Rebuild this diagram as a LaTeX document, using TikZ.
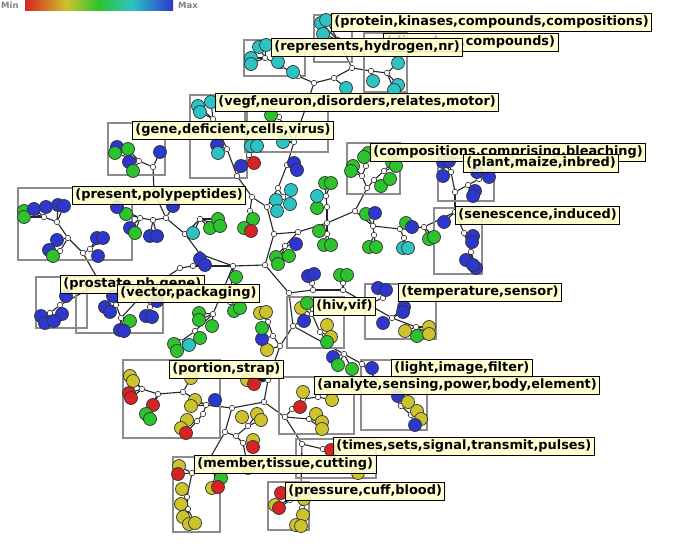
\documentclass[tikz,border=0pt]{standalone}
\usepackage{fontspec}
\setsansfont{DejaVu Sans}
\usetikzlibrary{backgrounds}
\definecolor{blu}{RGB}{45,55,205}
\definecolor{grn}{RGB}{45,195,45}
\definecolor{cyn}{RGB}{45,195,195}
\definecolor{ylw}{RGB}{205,195,45}
\definecolor{rd}{RGB}{215,35,35}
\definecolor{lbl}{RGB}{255,255,204}
\definecolor{kastengrau}{RGB}{140,140,140}
\pgfdeclarehorizontalshading{farbskala}{100bp}{color(0bp)=(rd); color(25bp)=(rd); color(39bp)=(ylw); color(50bp)=(grn); color(61bp)=(cyn); color(75bp)=(blu); color(100bp)=(blu)}
\begin{document}
\begin{tikzpicture}[x=1pt,y=-1pt,
  knoten/.style={circle,draw=black!80,fill=white,line width=0.6pt,minimum size=5.5pt,inner sep=0pt},
  blatt/.style={circle,draw=black!80,fill=#1,line width=0.7pt,minimum size=13pt,inner sep=0pt},
  kante/.style={line width=1.1pt,black!85},
  kasten/.style={draw=kastengrau,line width=1.1pt},
  etikett/.style={draw=black,line width=0.9pt,fill=lbl,fill opacity=0.88,text opacity=1,anchor=north west,inner xsep=3pt,inner ysep=3pt,text height=9.5pt,text depth=2.5pt,font=\sffamily\bfseries\fontsize{12.9}{14}\selectfont},
  skala/.style={text=gray,font=\sffamily\bfseries\fontsize{8.5}{10}\selectfont,inner sep=0pt,anchor=west}]
\useasboundingbox (0,0) rectangle (684,553);
% Skala
\shade[shading=farbskala] (25,0) rectangle (173,11);
\node[skala] (minwert) at (1,5) {Min};
\node[skala] (maxwert) at (178,5) {Max};
% Kaesten
\draw[kasten] (314,15) rectangle (352,62);
\draw[kasten] (364,33) rectangle (407,92);
\draw[kasten] (244,40) rectangle (305,76);
\draw[kasten] (190,95) rectangle (247,178);
\draw[kasten] (245,96) rectangle (328,152);
\draw[kasten] (108,123) rectangle (165,175);
\draw[kasten] (18,188) rectangle (132,260);
\draw[kasten] (347,143) rectangle (400,194);
\draw[kasten] (438,158) rectangle (494,201);
\draw[kasten] (434,208) rectangle (482,274);
\draw[kasten] (36,277) rectangle (87,328);
\draw[kasten] (76,285) rectangle (163,333);
\draw[kasten] (287,297) rectangle (344,348);
\draw[kasten] (365,284) rectangle (436,339);
\draw[kasten] (361,360) rectangle (427,430);
\draw[kasten] (123,360) rectangle (220,438);
\draw[kasten] (279,377) rectangle (354,434);
\draw[kasten] (296,439) rectangle (376,478);
\draw[kasten] (173,457) rectangle (220,532);
\draw[kasten] (268,482) rectangle (309,530);
% Knoten
\node[knoten] (c0) at (265,265) {};
\node[knoten] (cu) at (274,234) {};
\node[knoten] (cl) at (233,266) {};
\node[knoten] (cd) at (289,293) {};
\node[knoten] (s0a) at (267,207) {};
\node[knoten] (v0) at (252,197) {};
\node[knoten] (s0) at (278,188) {};
\node[knoten] (s0b) at (283,197) {};
\node[knoten] (s1) at (287,165) {};
\node[knoten] (s2) at (294,142) {};
\node[knoten] (b5) at (279,117) {};
\node[knoten] (t1) at (314,83) {};
\node[knoten] (r3) at (298,76) {};
\node[knoten] (r2) at (281,66) {};
\node[knoten] (r1) at (265,58) {};
\node[knoten] (t4) at (334,78) {};
\node[knoten] (t5) at (352,68) {};
\node[knoten] (t6) at (338,40) {};
\node[knoten] (t7) at (371,71) {};
\node[knoten] (t8) at (387,73) {};
\node[knoten] (v1) at (237,176) {};
\node[knoten] (v2) at (227,149) {};
\node[knoten] (v3) at (213,119) {};
\node[knoten] (v4) at (249,155) {};
\node[knoten] (g1) at (250,211) {};
\node[knoten] (l1) at (200,254) {};
\node[knoten] (l2) at (185,234) {};
\node[knoten] (l2a) at (200,219) {};
\node[knoten] (l3) at (166,218) {};
\node[knoten] (g0) at (154,192) {};
\node[knoten] (g2) at (153,167) {};
\node[knoten] (g3) at (139,161) {};
\node[knoten] (l4) at (153,220) {};
\node[knoten] (l5) at (140,218) {};
\node[knoten] (w1) at (193,266) {};
\node[knoten] (w2) at (180,268) {};
\node[knoten] (w3) at (145,292) {};
\node[knoten] (w4) at (100,283) {};
\node[knoten] (vk1) at (121,318) {};
\node[knoten] (vk2) at (116,305) {};
\node[knoten] (vk4) at (150,307) {};
\node[knoten] (p2) at (83,253) {};
\node[knoten] (p1) at (68,238) {};
\node[knoten] (p3) at (57,222) {};
\node[knoten] (p4) at (44,217) {};
\node[knoten] (p5) at (60,251) {};
\node[knoten] (p6) at (90,249) {};
\node[knoten] (k1) at (60,305) {};
\node[knoten] (k2) at (50,313) {};
\node[knoten] (d0) at (230,302) {};
\node[knoten] (d1) at (213,314) {};
\node[knoten] (d2) at (195,331) {};
\node[knoten] (d3) at (180,342) {};
\node[knoten] (x1) at (298,232) {};
\node[knoten] (x1a) at (285,246) {};
\node[knoten] (x2) at (327,223) {};
\node[knoten] (x2u) at (327,207) {};
\node[knoten] (x2v) at (326,196) {};
\node[knoten] (x2d) at (327,234) {};
\node[knoten] (x3) at (355,211) {};
\node[knoten] (b8a) at (367,188) {};
\node[knoten] (b8b) at (362,176) {};
\node[knoten] (b8e) at (366,166) {};
\node[knoten] (b8c) at (374,180) {};
\node[knoten] (b8d) at (384,171) {};
\node[knoten] (y0) at (373,226) {};
\node[knoten] (y0d) at (374,235) {};
\node[knoten] (y1) at (400,229) {};
\node[knoten] (y1d) at (404,238) {};
\node[knoten] (y2) at (424,227) {};
\node[knoten] (y3) at (455,212) {};
\node[knoten] (y4) at (455,192) {};
\node[knoten] (y4a) at (451,172) {};
\node[knoten] (y4b) at (468,185) {};
\node[knoten] (y4c) at (479,179) {};
\node[knoten] (y5) at (464,233) {};
\node[knoten] (y6) at (471,252) {};
\node[knoten] (z1) at (313,290) {};
\node[knoten] (z1a) at (312,283) {};
\node[knoten] (z2) at (343,290) {};
\node[knoten] (z2a) at (343,283) {};
\node[knoten] (z3) at (368,304) {};
\node[knoten] (te1) at (383,298) {};
\node[knoten] (te2) at (392,318) {};
\node[knoten] (te3) at (416,327) {};
\node[knoten] (h0) at (293,326) {};
\node[knoten] (h1) at (312,314) {};
\node[knoten] (h2) at (320,332) {};
\node[knoten] (m1) at (280,346) {};
\node[knoten] (m2) at (273,336) {};
\node[knoten] (m3) at (268,322) {};
\node[knoten] (n1) at (344,354) {};
\node[knoten] (n3) at (362,364) {};
\node[knoten] (li1) at (389,392) {};
\node[knoten] (li2) at (401,406) {};
\node[knoten] (li3) at (411,415) {};
\node[knoten] (q1) at (268,380) {};
\node[knoten] (u1) at (264,402) {};
\node[knoten] (u2) at (232,408) {};
\node[knoten] (u3) at (285,417) {};
\node[knoten] (u4) at (302,444) {};
\node[knoten] (an1) at (292,409) {};
\node[knoten] (an2) at (303,399) {};
\node[knoten] (an3) at (318,397) {};
\node[knoten] (an4) at (309,419) {};
\node[knoten] (ti1) at (323,449) {};
\node[knoten] (pr0) at (301,487) {};
\node[knoten] (pr1) at (290,500) {};
\node[knoten] (pr2) at (302,508) {};
\node[knoten] (pr3) at (300,520) {};
\node[knoten] (po1) at (206,405) {};
\node[knoten] (po2) at (183,392) {};
\node[knoten] (po3) at (158,394) {};
\node[knoten] (po4) at (142,389) {};
\node[knoten] (po6) at (203,414) {};
\node[knoten] (po7) at (197,421) {};
\node[knoten] (me0) at (225,432) {};
\node[knoten] (me1) at (236,436) {};
\node[knoten] (me2) at (248,426) {};
\node[knoten] (me3) at (243,443) {};
\node[knoten] (mb0) at (210,458) {};
\node[knoten] (mb0a) at (216,481) {};
\node[knoten] (mb1) at (192,473) {};
\node[knoten] (mb2) at (187,497) {};
\node[knoten] (mb3) at (188,509) {};
% Blaetter
\node[blatt=cyn] (s0b-1) at (291,190) {};
\node[blatt=cyn] (s0b-2) at (290,204) {};
\node[blatt=cyn] (s0b-3) at (276,200) {};
\node[blatt=cyn] (s0b-4) at (277,211) {};
\node[blatt=blu] (s1-1) at (294,163) {};
\node[blatt=blu] (s1-2) at (297,170) {};
\node[blatt=cyn] (s2-1) at (283,142) {};
\node[blatt=grn] (b5-1) at (271,115) {};
\node[blatt=cyn] (r3-1) at (293,72) {};
\node[blatt=cyn] (r2-1) at (278,62) {};
\node[blatt=cyn] (r1-1) at (259,47) {};
\node[blatt=cyn] (r1-2) at (266,45) {};
\node[blatt=cyn] (r1-3) at (251,58) {};
\node[blatt=cyn] (r1-4) at (251,64) {};
\node[blatt=cyn] (t4-1) at (346,88) {};
\node[blatt=cyn] (t6-1) at (321,23) {};
\node[blatt=cyn] (t6-2) at (326,20) {};
\node[blatt=cyn] (t6-3) at (323,34) {};
\node[blatt=cyn] (t7-1) at (373,81) {};
\node[blatt=cyn] (t8-1) at (398,63) {};
\node[blatt=cyn] (t8-2) at (398,85) {};
\node[blatt=cyn] (t8-3) at (394,90) {};
\node[blatt=blu] (v1-1) at (241,166) {};
\node[blatt=blu] (v2-1) at (217,145) {};
\node[blatt=cyn] (v2-2) at (218,153) {};
\node[blatt=cyn] (v3-1) at (198,106) {};
\node[blatt=cyn] (v3-2) at (200,112) {};
\node[blatt=cyn] (v3-3) at (211,102) {};
\node[blatt=cyn] (v4-1) at (251,146) {};
\node[blatt=cyn] (v4-2) at (257,146) {};
\node[blatt=rd] (v4-3) at (254,163) {};
\node[blatt=grn] (g1-1) at (253,219) {};
\node[blatt=grn] (g1-2) at (244,228) {};
\node[blatt=rd] (g1-3) at (251,231) {};
\node[blatt=cyn] (l2a-1) at (193,233) {};
\node[blatt=grn] (l2a-2) at (210,228) {};
\node[blatt=grn] (l2a-3) at (218,219) {};
\node[blatt=grn] (l2a-4) at (220,226) {};
\node[blatt=blu] (l3-1) at (173,206) {};
\node[blatt=blu] (g2-1) at (160,152) {};
\node[blatt=blu] (g3-1) at (117,147) {};
\node[blatt=grn] (g3-2) at (115,153) {};
\node[blatt=grn] (g3-3) at (128,149) {};
\node[blatt=blu] (g3-4) at (129,162) {};
\node[blatt=grn] (g3-5) at (133,171) {};
\node[blatt=blu] (l4-1) at (150,236) {};
\node[blatt=blu] (l4-2) at (157,236) {};
\node[blatt=grn] (l5-1) at (126,214) {};
\node[blatt=blu] (l5-2) at (130,228) {};
\node[blatt=grn] (l5-3) at (135,233) {};
\node[blatt=blu] (l5-4) at (117,207) {};
\node[blatt=blu] (w1-1) at (200,259) {};
\node[blatt=blu] (w1-2) at (205,265) {};
\node[blatt=blu] (vk2-1) at (105,307) {};
\node[blatt=blu] (vk2-2) at (110,312) {};
\node[blatt=blu] (vk2-3) at (113,296) {};
\node[blatt=grn] (vk1-1) at (130,321) {};
\node[blatt=blu] (vk1-2) at (120,330) {};
\node[blatt=blu] (vk1-3) at (124,331) {};
\node[blatt=blu] (vk4-1) at (146,316) {};
\node[blatt=blu] (vk4-2) at (152,317) {};
\node[blatt=blu] (vk4-3) at (157,301) {};
\node[blatt=blu] (p3-1) at (58,205) {};
\node[blatt=blu] (p3-2) at (64,206) {};
\node[blatt=grn] (p4-1) at (24,211) {};
\node[blatt=grn] (p4-2) at (24,217) {};
\node[blatt=blu] (p4-3) at (34,209) {};
\node[blatt=blu] (p4-4) at (46,207) {};
\node[blatt=blu] (p1-1) at (57,240) {};
\node[blatt=blu] (p5-1) at (49,250) {};
\node[blatt=grn] (p5-2) at (53,256) {};
\node[blatt=blu] (p6-1) at (97,238) {};
\node[blatt=blu] (p6-2) at (103,238) {};
\node[blatt=blu] (p6-3) at (98,256) {};
\node[blatt=blu] (k1-1) at (66,296) {};
\node[blatt=blu] (k1-2) at (62,314) {};
\node[blatt=blu] (k2-1) at (41,316) {};
\node[blatt=blu] (k2-2) at (45,323) {};
\node[blatt=blu] (k2-3) at (54,321) {};
\node[blatt=grn] (cl-1) at (236,277) {};
\node[blatt=grn] (d0-1) at (234,311) {};
\node[blatt=grn] (d0-2) at (240,308) {};
\node[blatt=grn] (d1-1) at (199,313) {};
\node[blatt=grn] (d1-2) at (199,320) {};
\node[blatt=grn] (d1-3) at (212,326) {};
\node[blatt=grn] (d2-1) at (200,338) {};
\node[blatt=grn] (d3-1) at (174,344) {};
\node[blatt=grn] (d3-2) at (177,351) {};
\node[blatt=cyn] (d3-3) at (189,345) {};
\node[blatt=blu] (x1a-1) at (296,244) {};
\node[blatt=grn] (x1a-2) at (289,256) {};
\node[blatt=grn] (x1a-3) at (276,257) {};
\node[blatt=grn] (x1a-4) at (278,264) {};
\node[blatt=grn] (x2u-1) at (317,208) {};
\node[blatt=grn] (x2v-1) at (325,183) {};
\node[blatt=grn] (x2v-2) at (331,183) {};
\node[blatt=cyn] (x2v-3) at (317,196) {};
\node[blatt=grn] (x2-1) at (319,231) {};
\node[blatt=grn] (x2d-1) at (324,245) {};
\node[blatt=grn] (x2d-2) at (331,245) {};
\node[blatt=grn] (b8b-1) at (353,166) {};
\node[blatt=grn] (b8b-2) at (351,171) {};
\node[blatt=grn] (b8e-1) at (368,153) {};
\node[blatt=grn] (b8e-2) at (364,157) {};
\node[blatt=grn] (b8c-1) at (381,186) {};
\node[blatt=grn] (b8d-1) at (392,162) {};
\node[blatt=grn] (b8d-2) at (396,166) {};
\node[blatt=grn] (b8d-3) at (390,179) {};
\node[blatt=grn] (y0-1) at (366,214) {};
\node[blatt=blu] (y0-2) at (375,213) {};
\node[blatt=grn] (y0d-1) at (369,247) {};
\node[blatt=grn] (y0d-2) at (376,247) {};
\node[blatt=grn] (y1-1) at (406,223) {};
\node[blatt=blu] (y1-2) at (412,227) {};
\node[blatt=cyn] (y1d-1) at (403,248) {};
\node[blatt=cyn] (y1d-2) at (408,248) {};
\node[blatt=grn] (y2-1) at (429,239) {};
\node[blatt=grn] (y2-2) at (434,237) {};
\node[blatt=blu] (y3-1) at (444,222) {};
\node[blatt=blu] (y4a-1) at (443,162) {};
\node[blatt=blu] (y4a-2) at (449,161) {};
\node[blatt=blu] (y4a-3) at (443,176) {};
\node[blatt=blu] (y4b-1) at (475,191) {};
\node[blatt=blu] (y4b-2) at (473,196) {};
\node[blatt=blu] (y4c-1) at (477,172) {};
\node[blatt=blu] (y4c-2) at (489,177) {};
\node[blatt=blu] (y5-1) at (473,236) {};
\node[blatt=blu] (y5-2) at (472,242) {};
\node[blatt=blu] (y6-1) at (466,260) {};
\node[blatt=blu] (y6-2) at (476,268) {};
\node[blatt=blu] (y6-3) at (473,265) {};
\node[blatt=blu] (z1a-1) at (308,276) {};
\node[blatt=blu] (z1a-2) at (314,274) {};
\node[blatt=grn] (z2a-1) at (340,275) {};
\node[blatt=grn] (z2a-2) at (347,275) {};
\node[blatt=blu] (te1-1) at (378,288) {};
\node[blatt=blu] (te1-2) at (386,290) {};
\node[blatt=blu] (te2-1) at (383,323) {};
\node[blatt=blu] (te2-2) at (404,307) {};
\node[blatt=blu] (te2-3) at (403,312) {};
\node[blatt=ylw] (te3-1) at (405,331) {};
\node[blatt=grn] (te3-2) at (417,336) {};
\node[blatt=ylw] (te3-3) at (429,327) {};
\node[blatt=ylw] (te3-4) at (429,334) {};
\node[blatt=ylw] (h1-1) at (301,308) {};
\node[blatt=grn] (h1-2) at (307,303) {};
\node[blatt=blu] (h1-3) at (304,321) {};
\node[blatt=ylw] (h2-1) at (327,325) {};
\node[blatt=ylw] (h2-2) at (331,337) {};
\node[blatt=grn] (h2-3) at (327,342) {};
\node[blatt=ylw] (m1-1) at (267,350) {};
\node[blatt=blu] (m2-1) at (262,339) {};
\node[blatt=ylw] (m3-1) at (260,313) {};
\node[blatt=ylw] (m3-2) at (266,312) {};
\node[blatt=grn] (m3-3) at (262,328) {};
\node[blatt=blu] (n1-1) at (333,357) {};
\node[blatt=grn] (n1-2) at (338,365) {};
\node[blatt=grn] (n1-3) at (352,369) {};
\node[blatt=blu] (n3-1) at (372,368) {};
\node[blatt=blu] (li1-1) at (398,396) {};
\node[blatt=ylw] (li2-1) at (408,402) {};
\node[blatt=ylw] (li3-1) at (417,411) {};
\node[blatt=ylw] (li3-2) at (421,419) {};
\node[blatt=blu] (li3-3) at (415,425) {};
\node[blatt=ylw] (q1-1) at (247,380) {};
\node[blatt=rd] (q1-2) at (254,384) {};
\node[blatt=rd] (an1-1) at (300,407) {};
\node[blatt=ylw] (an2-1) at (303,392) {};
\node[blatt=ylw] (an3-1) at (332,400) {};
\node[blatt=ylw] (an4-1) at (316,414) {};
\node[blatt=ylw] (an4-2) at (322,422) {};
\node[blatt=ylw] (an4-3) at (322,429) {};
\node[blatt=rd] (ti1-1) at (331,450) {};
\node[blatt=ylw] (ti1-2) at (358,473) {};
\node[blatt=rd] (pr1-1) at (281,493) {};
\node[blatt=ylw] (pr1-2) at (275,505) {};
\node[blatt=rd] (pr1-3) at (279,508) {};
\node[blatt=ylw] (pr0-1) at (304,499) {};
\node[blatt=ylw] (pr2-1) at (303,515) {};
\node[blatt=ylw] (pr3-1) at (296,525) {};
\node[blatt=ylw] (pr3-2) at (301,526) {};
\node[blatt=blu] (po1-1) at (215,400) {};
\node[blatt=ylw] (po1-2) at (195,400) {};
\node[blatt=ylw] (po1-3) at (191,406) {};
\node[blatt=ylw] (po2-1) at (191,378) {};
\node[blatt=rd] (po3-1) at (153,405) {};
\node[blatt=grn] (po3-2) at (146,414) {};
\node[blatt=grn] (po3-3) at (150,419) {};
\node[blatt=ylw] (po4-1) at (130,376) {};
\node[blatt=ylw] (po4-2) at (133,381) {};
\node[blatt=rd] (po4-3) at (129,393) {};
\node[blatt=rd] (po4-4) at (131,398) {};
\node[blatt=ylw] (po7-1) at (187,420) {};
\node[blatt=ylw] (po7-2) at (181,428) {};
\node[blatt=rd] (po7-3) at (186,433) {};
\node[blatt=ylw] (me2-1) at (242,417) {};
\node[blatt=ylw] (me2-2) at (257,414) {};
\node[blatt=ylw] (me2-3) at (261,420) {};
\node[blatt=ylw] (me3-1) at (253,440) {};
\node[blatt=rd] (me3-2) at (253,447) {};
\node[blatt=ylw] (me3-3) at (248,468) {};
\node[blatt=grn] (mb0a-1) at (221,478) {};
\node[blatt=ylw] (mb0a-2) at (212,488) {};
\node[blatt=rd] (mb0a-3) at (218,487) {};
\node[blatt=ylw] (mb1-1) at (179,466) {};
\node[blatt=rd] (mb1-2) at (178,474) {};
\node[blatt=ylw] (mb2-1) at (182,489) {};
\node[blatt=ylw] (mb2-2) at (181,504) {};
\node[blatt=ylw] (mb3-1) at (183,517) {};
\node[blatt=ylw] (mb3-2) at (189,524) {};
\node[blatt=ylw] (mb3-3) at (195,523) {};
% Kanten
\begin{pgfonlayer}{background}
\foreach \a/\b in {c0/cu, c0/cl, c0/cd, cu/s0a, s0a/v0, s0a/s0, s0/s0b, s0/s1, s1/s2, s2/b5, s2/t1,
  t1/r3, r3/r2, r2/r1, t1/t4, t4/t5, t5/t6, t5/t7, t7/t8, v0/v1, v1/v2, v2/v3, v1/v4, v0/g1,
  cl/l1, l1/l2, l2/l2a, l2/l3, l3/g0, g0/g2, g2/g3, l3/l4, l4/l5,
  cl/w1, w1/w2, w2/w3, w3/w4, w3/vk1, vk1/vk2, w3/vk4, w4/p2, p2/p1, p1/p3, p3/p4, p1/p5, p2/p6, w4/k1, k1/k2,
  cl/d0, cl/d1, d1/d2, d2/d3,
  cu/x1, x1/x1a, x1/x2, x2/x2u, x2u/x2v, x2/x2d, x2/x3, x3/b8a, b8a/b8b, b8b/b8e, b8a/b8c, b8c/b8d,
  x3/y0, y0/y0d, y0/y1, y1/y1d, y1/y2, y2/y3, y3/y4, y4/y4a, y4/y4b, y4b/y4c, y3/y5, y5/y6,
  cd/z1, z1/z1a, z1/z2, z2/z2a, z2/z3, z3/te1, z3/te2, te2/te3,
  cd/h0, h0/h1, h1/h2, h0/m1, m1/m2, m2/m3, h0/n1, n1/n3, n3/li1, li1/li2, li2/li3,
  m1/q1, q1/u1, u1/u2, u1/u3, u3/an1, an1/an2, an2/an3, u3/an4, u3/u4, u4/ti1, u4/pr0, pr0/pr1, pr0/pr2, pr2/pr3,
  u2/po1, po1/po2, po2/po3, po3/po4, po1/po6, po6/po7,
  u2/me0, me0/me1, me1/me2, me1/me3, me0/mb0, mb0/mb0a, mb0/mb1, mb1/mb2, mb2/mb3}
  \draw[kante] (\a) -- (\b);
\foreach \p/\n in {s0b/4, s1/2, s2/1, b5/1, r3/1, r2/1, r1/4, t4/1, t6/3, t7/1, t8/3, v1/1, v2/2, v3/3, v4/3, g1/3,
  l2a/4, l3/1, g2/1, g3/5, l4/2, l5/4, w1/2, vk2/3, vk1/3, vk4/3, p3/2, p4/4, p1/1, p5/2, p6/3, k1/2, k2/3,
  cl/1, d0/2, d1/3, d2/1, d3/3, x1a/4, x2u/1, x2v/3, x2/1, x2d/2, b8b/2, b8e/2, b8c/1, b8d/3,
  y0/2, y0d/2, y1/2, y1d/2, y2/2, y3/1, y4a/3, y4b/2, y4c/2, y5/2, y6/3, z1a/2, z2a/2, te1/2, te2/3, te3/4,
  h1/3, h2/3, m1/1, m2/1, m3/3, n1/3, n3/1, li1/1, li2/1, li3/3, q1/2, an1/1, an2/1, an3/1, an4/3, ti1/2,
  pr1/3, pr0/1, pr2/1, pr3/2, po1/3, po2/1, po3/3, po4/4, po7/3, me2/3, me3/3, mb0a/3, mb1/2, mb2/2, mb3/3}
  \foreach \l in {1,...,\n} \draw[kante] (\p) -- (\p-\l);
\end{pgfonlayer}
% Beschriftungen
\node[etikett] (ldisorders) at (383,33) {\textcolor{black!25}{(disorders,}compounds)};
\node[etikett] (lrepresents) at (271,38) {(represents,hydrogen,nr)};
\node[etikett] (lprotein) at (331,13) {(protein,kinases,compounds,compositions)};
\node[etikett] (lvegf) at (215,93) {(vegf,neuron,disorders,relates,motor)};
\node[etikett] (lgene) at (132,121) {(gene,deficient,cells,virus)};
\node[etikett] (lcompositions) at (370,143) {(compositions,comprising,bleaching)};
\node[etikett] (lplant) at (463,154) {(plant,maize,inbred)};
\node[etikett] (lpresent) at (72,186) {(present,polypeptides)};
\node[etikett] (lsenescence) at (455,206) {(senescence,induced)};
\node[etikett] (lprostate) at (60,275) {(prostate,pb,gene)};
\node[etikett] (lvector) at (117,284) {(vector,packaging)};
\node[etikett] (ltemperature) at (398,283) {(temperature,sensor)};
\node[etikett] (lhiv) at (313,297) {(hiv,vif)};
\node[etikett] (llight) at (391,359) {(light,image,filter)};
\node[etikett] (lanalyte) at (314,376) {(analyte,sensing,power,body,element)};
\node[etikett] (lportion) at (169,360) {(portion,strap)};
\node[etikett] (ltimes) at (333,437) {(times,sets,signal,transmit,pulses)};
\node[etikett] (lmember) at (194,455) {(member,tissue,cutting)};
\node[etikett] (lpressure) at (285,482) {(pressure,cuff,blood)};
\end{tikzpicture}
\end{document}
